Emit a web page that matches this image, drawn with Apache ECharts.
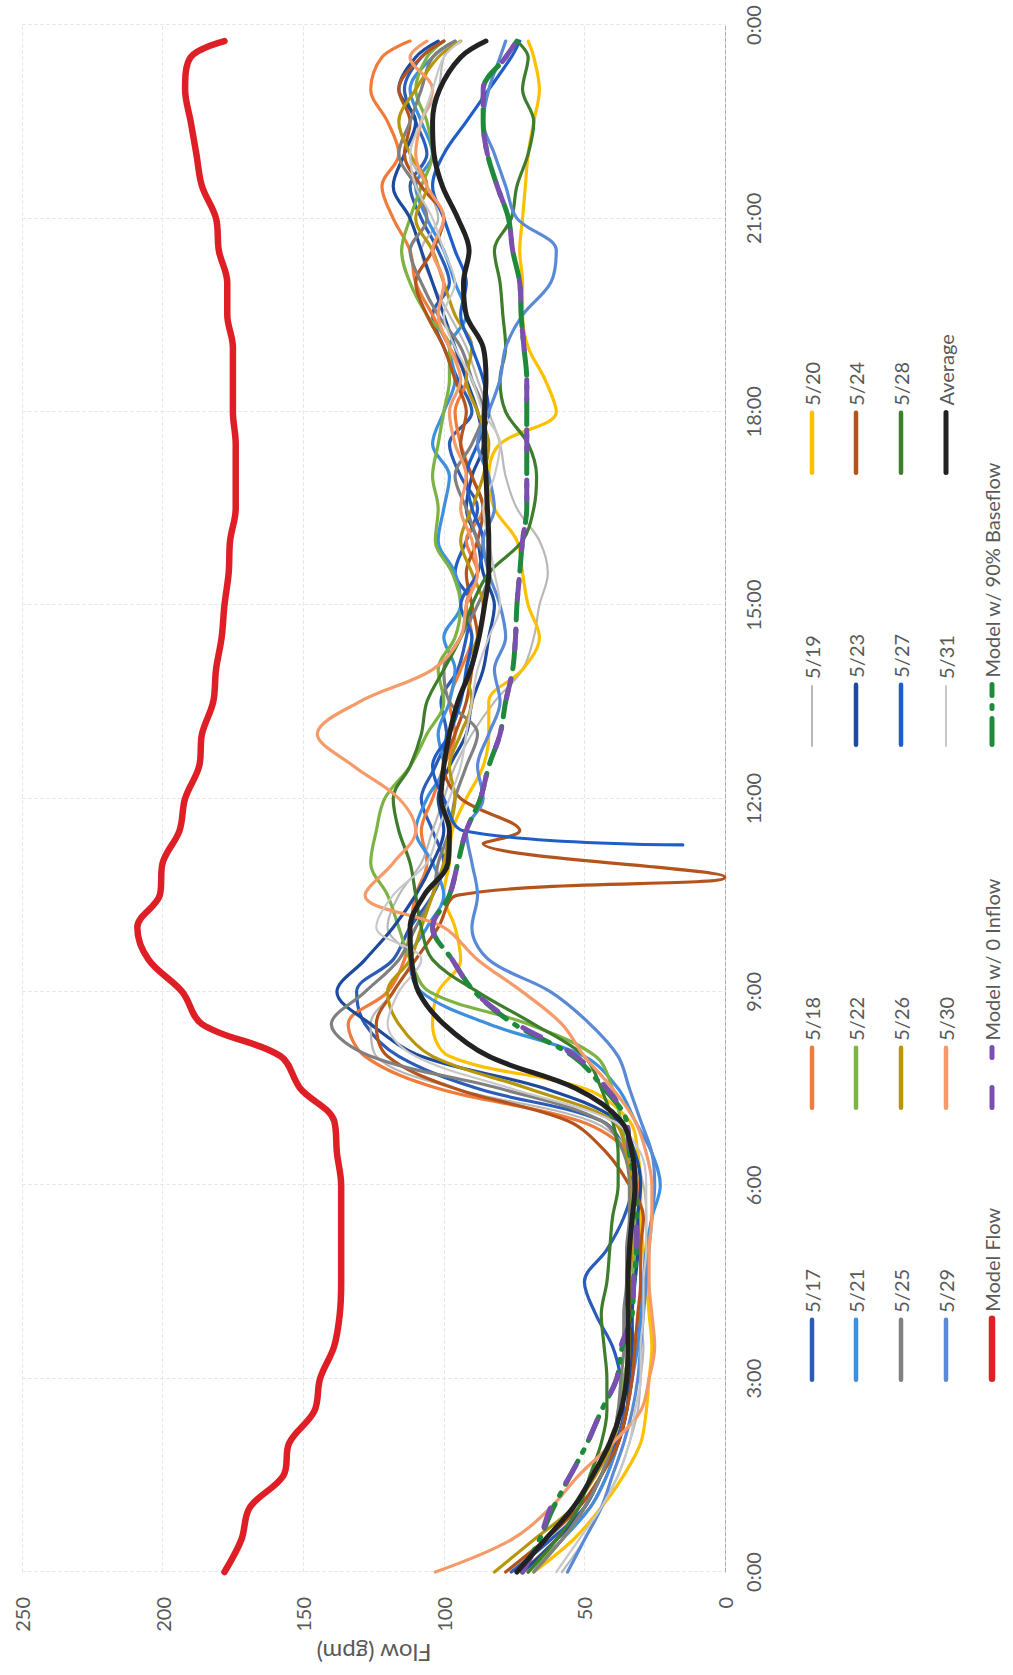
<!DOCTYPE html>
<html>
<head>
<meta charset="utf-8">
<title>Flow by time of day</title>
<script src="https://cdn.jsdelivr.net/npm/echarts@6/dist/echarts.min.js"></script>
<style>
  html, body { margin: 0; padding: 0; background: #fff; overflow: hidden; }
  #chart {
    position: absolute; left: 0; top: 0;
    width: 1675px; height: 1013px;
    transform-origin: 0 0;
    /* the scanned chart is turned a quarter turn, so draw it flat and turn it */
    transform: translate(0, 1675px) rotate(-90deg);
  }
</style>
</head>
<body>
<div id="chart"></div>
<script>
// time of day in hours
var HOURS = [0, 0.5, 1, 1.5, 2, 2.5, 3, 3.5, 4, 4.5, 5, 5.5, 6, 6.5, 7, 7.5, 8, 8.5, 9, 9.5,
  10, 10.5, 11, 11.5, 12, 12.5, 13, 13.5, 14, 14.5, 15, 15.5, 16, 16.5, 17, 17.5, 18, 18.5, 19, 19.5,
  20, 20.5, 21, 21.5, 22, 22.5, 23, 23.5, 23.75];

var DAYS = ['5/17', '5/18', '5/19', '5/20', '5/21', '5/22', '5/23', '5/24', '5/25', '5/26', '5/27', '5/28', '5/29', '5/30', '5/31'];

// measured flow (gpm), one value per entry of HOURS
var D0517 = [76, 62, 50, 44, 39, 36, 37, 40, 46, 50, 42, 36, 33, 35, 44, 88, 116, 128, 131, 118, 112, 104, 100, 104, 108, 103, 99, 101, 95, 92, 90, 96, 92, 88, 94, 98, 90, 95, 100, 104, 98, 102, 108, 112, 106, 110, 114, 108, 100];
var D0518 = [72, 60, 48, 42, 38, 35, 33, 32, 34, 33, 31, 30, 31, 34, 52, 102, 128, 134, 120, 114, 112, 110, 106, 108, 104, 100, 96, 98, 94, 90, 92, 88, 92, 86, 90, 94, 96, 92, 98, 104, 110, 112, 118, 122, 116, 120, 126, 122, 112];
var D0519 = [58, 50, 44, 38, 34, 31, 30, 29, 30, 29, 28, 28, 29, 33, 48, 96, 124, 126, 118, 112, 120, 116, 108, 104, 100, 96, 90, 82, 72, 68, 66, 63, 66, 74, 78, 80, 84, 88, 92, 98, 104, 108, 102, 106, 112, 108, 102, 100, 96];
var D0520 = [68, 54, 44, 36, 30, 28, 27, 26, 27, 28, 29, 30, 30, 31, 34, 50, 98, 104, 102, 94, 96, 100, 98, 97, 92, 86, 84, 84, 72, 66, 70, 72, 74, 82, 84, 80, 60, 64, 70, 72, 72, 73, 72, 71, 70, 68, 66, 68, 70];
var D0521 = [70, 58, 48, 42, 38, 35, 33, 31, 30, 29, 28, 26, 23, 26, 32, 38, 50, 84, 108, 112, 106, 100, 104, 110, 106, 100, 102, 98, 96, 100, 94, 96, 102, 100, 98, 104, 100, 96, 98, 92, 96, 100, 106, 110, 104, 108, 112, 104, 96];
var D0522 = [70, 58, 50, 44, 40, 38, 36, 34, 34, 33, 32, 32, 33, 35, 37, 40, 46, 70, 105, 112, 116, 120, 126, 124, 121, 112, 106, 100, 102, 96, 94, 97, 103, 102, 104, 102, 100, 98, 98, 106, 112, 115, 112, 108, 104, 106, 110, 106, 100];
var D0523 = [72, 60, 50, 44, 38, 35, 34, 33, 33, 32, 31, 31, 30, 32, 38, 64, 108, 126, 138, 128, 118, 110, 104, 100, 102, 98, 92, 90, 86, 84, 82, 86, 88, 92, 90, 86, 88, 92, 96, 100, 104, 108, 112, 118, 114, 110, 116, 110, 102];
var D0524 = [78, 64, 52, 44, 38, 35, 33, 32, 31, 30, 30, 29, 34, 42, 56, 96, 120, 124, 118, 110, 102, 95, null, 73, 94, 100, 96, 92, 90, 88, 90, 92, 88, 86, 90, 94, 92, 96, 100, 106, 110, 104, 100, 108, 114, 112, 116, 108, 100];
var D0525 = [68, 58, 50, 44, 40, 38, 37, 36, 36, 35, 35, 34, 34, 36, 44, 80, 126, 140, 128, 116, 110, 104, 102, 98, 96, 92, 88, 98, 100, 94, 88, 84, 88, 92, 96, 90, 86, 90, 94, 102, 108, 112, 106, 110, 116, 112, 108, 104, 96];
var D0526 = [82, 68, 54, 46, 40, 37, 35, 34, 34, 34, 33, 33, 33, 35, 40, 70, 104, 116, 120, 112, 108, 104, 100, 98, 96, 98, 94, 90, 92, 88, 86, 90, 94, 90, 86, 84, 88, 92, 90, 96, 100, 104, 110, 106, 112, 116, 110, 102, 94];
var D0527 = [null, null, null, null, null, null, null, null, null, null, null, null, null, null, null, null, null, null, null, null, null, null, null,
  93, 100, 104, 98, 94, 92, 90, 94, 88, 86, 90, 92, 88, 84, 86, 90, 94, 92, 96, 100, 104, 100, 92, 84, 76, 73];
var D0528 = [70, 60, 52, 48, 44, 42, 42, 43, 44, 42, 41, 40, 38, 38, 40, 44, 50, 68, 88, 104, 108, 110, 112, 116, 118, 112, 108, 106, 100, 94, 90, 84, 72, 68, 67, 70, 78, 80, 78, 79, 80, 82, 76, 74, 70, 68, 72, 70, 74];
var D0529 = [56, 50, 44, 40, 36, 33, 31, 30, 29, 28, 27, 26, 25, 26, 30, 34, 38, 48, 62, 84, 90, 88, 90, 92, 86, 88, 84, 80, 82, 78, 80, 84, 86, 82, 84, 88, 84, 80, 78, 72, 62, 60, 74, 78, 82, 86, 84, 80, 78];
var D0530 = [103, 76, 62, 52, 40, 30, 27, 25, 26, 27, 27, 26, 26, 28, 32, 40, 50, 58, 72, 88, 100, 128, 118, 110, 116, 132, 145, 130, 104, 94, 92, 88, 90, 94, 92, 96, 98, 94, 98, 102, 100, 104, 100, 106, 110, 108, 104, 112, 106];
var D0531 = [60, 52, 44, 38, 34, 32, 30, 30, 29, 29, 28, 28, 28, 30, 40, 76, 110, 120, 116, 108, 124, 118, 106, 102, 98, 94, 92, 90, 88, 84, 80, 82, 84, 86, 82, 80, 86, 90, 96, 100, 96, 100, 104, 110, 112, 108, 104, 100, 94];

// short drops between the half-hour readings, [hour, gpm]
var SPIKE_0524 = [[10.78, 0], [11.3, 86]];
var SPIKE_0527 = [[11.28, 15]];

var MODEL_FLOW = [178, 172, 169, 157, 155, 146, 144, 139, 137, 136.5, 136.5, 136.5, 136.5, 138, 139, 151, 158, 186, 193, 205,
  209, 201, 200, 194, 192, 187, 186, 182, 181, 179, 178, 176.5, 176, 174, 174, 174, 175, 175, 175, 177,
  177, 180, 181, 186, 188, 190, 192, 190, 178];
var MODEL_NO_INFLOW = [72, 66, 62, 55, 49, 44, 38.5, 37, 33, 32.5, 31.5, 31.5, 32, 34, 35, 42, 53, 74, 89, 97,
  104, 98, 95, 92, 87, 84, 80, 78, 75.5, 74.5, 74, 73, 72, 70.5, 70.5, 70.5, 70.5, 70.5, 71.5, 72.5,
  73, 75.5, 77, 81, 84.5, 86, 86, 78, 74];
var MODEL_90_BASE = [72, 66, 61, 55, 49, 44, 38.5, 36.5, 33, 32.5, 31.5, 31.5, 32, 34, 35, 43, 54, 75, 89, 97,
  104, 98, 95, 92, 87, 84, 80, 78, 75.5, 74.5, 74, 73, 72, 70.5, 70.5, 70.5, 70.5, 70.5, 71.5, 72.5,
  73, 75.5, 77, 81, 84.5, 86, 86, 78, 74];
var AVERAGE = [74, 64, 54, 47, 41, 37, 35, 34.5, 34.5, 34.5, 34, 33, 32, 33, 37, 53, 84, 100, 109, 111.5,
  112, 107, 98.5, 98, 101, 100, 98, 95, 90.5, 87.5, 85.5, 84, 84, 84.5, 85, 85.5, 85.5, 85, 86, 92,
  93, 91, 95, 100.5, 103.5, 104, 101.5, 94, 85];

var DAY_VALUES = [D0517, D0518, D0519, D0520, D0521, D0522, D0523, D0524, D0525, D0526, D0527, D0528, D0529, D0530, D0531];
var DAY_EXTRA = { '5/24': SPIKE_0524, '5/27': SPIKE_0527 };

var DAY_COLORS = ['#2a5cb8', '#f07b3a', '#b8b8b8', '#fbc000', '#3d8fe0', '#7cb342', '#1d4a9c', '#b4541c',
  '#808080', '#b8960c', '#1f5ec8', '#3e7d2b', '#5a8ad6', '#f59a68', '#c8c8c8'];

function toPoints(values, extra) {
  var out = [];
  HOURS.forEach(function (h, i) {
    if (values[i] != null) out.push([h, values[i]]);
  });
  (extra || []).forEach(function (p) { out.push(p); });
  out.sort(function (a, b) { return a[0] - b[0]; });
  return out;
}

var FONT = 'Lato';
var TEXT = '#595959';
var THIN = ['5/19', '5/31'];

var series = [];
DAYS.forEach(function (d, i) {
  series.push({
    name: d, type: 'line', symbol: 'none', smooth: 0.35,
    data: toPoints(DAY_VALUES[i], DAY_EXTRA[d]),
    lineStyle: { color: DAY_COLORS[i], width: THIN.indexOf(d) >= 0 ? 2.2 : 3.2, cap: 'round' },
    itemStyle: { color: DAY_COLORS[i] }
  });
});
series.push({
  name: 'Model Flow', type: 'line', symbol: 'none', smooth: 0.35,
  data: toPoints(MODEL_FLOW),
  lineStyle: { color: '#df1f26', width: 6.5, cap: 'round' }, itemStyle: { color: '#df1f26' }
});
// green first, purple dashes on top so both show along the shared path
series.push({
  name: 'Model w/ 90% Baseflow', type: 'line', symbol: 'none', smooth: 0.35,
  data: toPoints(MODEL_90_BASE),
  lineStyle: { color: '#1f8a3c', width: 5, type: [26, 10, 3, 10], cap: 'round' }, itemStyle: { color: '#1f8a3c' }
});
series.push({
  name: 'Model w/ 0 Inflow', type: 'line', symbol: 'none', smooth: 0.35,
  data: toPoints(MODEL_NO_INFLOW),
  lineStyle: { color: '#7a4fb0', width: 5, type: [20, 30], cap: 'round' }, itemStyle: { color: '#7a4fb0' }
});
series.push({
  name: 'Average', type: 'line', symbol: 'none', smooth: 0.35,
  data: toPoints(AVERAGE),
  lineStyle: { color: '#222222', width: 5, cap: 'round' }, itemStyle: { color: '#222222' }
});

// legend laid out like the Excel one: 4 columns, 5 rows
var LEG_ROWS = [812, 856, 901, 946, 992];
var LEG_COLS = [293, 565, 928, 1200];
var legendNames = ['5/17', '5/18', '5/19', '5/20', '5/21', '5/22', '5/23', '5/24', '5/25', '5/26', '5/27', '5/28',
  '5/29', '5/30', '5/31', 'Average', 'Model Flow', 'Model w/ 0 Inflow', 'Model w/ 90% Baseflow'];
var legends = legendNames.map(function (n, i) {
  var isDay = DAYS.indexOf(n) >= 0;
  return {
    data: [n],
    left: LEG_COLS[i % 4], top: LEG_ROWS[Math.floor(i / 4)] - 12,
    padding: 0, itemWidth: 60, itemHeight: 8, selectedMode: false,
    lineStyle: { width: isDay ? (THIN.indexOf(n) >= 0 ? 2 : 4.5) : 'inherit' },
    itemStyle: { opacity: 0 },
    textStyle: { fontSize: 20, fontFamily: FONT, color: TEXT, lineHeight: 24, padding: [0, 0, 0, 2] }
  };
});

var chart = echarts.init(document.getElementById('chart'), null, { renderer: 'svg', width: 1675, height: 1013 });
chart.setOption({
  backgroundColor: '#ffffff',
  animation: false,
  grid: { left: 103, right: 25, top: 22, bottom: 288, outerBoundsMode: 'none' },
  legend: legends,
  graphic: [{
    // value-axis title, centred on the plot height
    type: 'text', x: 22, y: 374, rotation: Math.PI / 2,
    style: {
      text: 'Flow (gpm)', fill: TEXT, fontSize: 24, fontFamily: FONT,
      align: 'center', verticalAlign: 'middle'
    }
  }],
  xAxis: {
    type: 'value', min: 0, max: 24, interval: 3,
    axisLine: { show: true, onZero: false, lineStyle: { color: '#aaaaaa', type: 'dashed', width: 1 } },
    axisTick: { show: false },
    axisLabel: {
      fontSize: 20, fontFamily: FONT, color: TEXT, margin: 18, showMinLabel: true, showMaxLabel: true,
      formatter: function (v) { return (v % 24) + ':00'; }
    },
    splitLine: { show: true, lineStyle: { color: '#e8e8e8', type: 'dashed' } }
  },
  yAxis: {
    type: 'value', min: 0, max: 250, interval: 50,
    axisLine: { show: false }, axisTick: { show: false },
    axisLabel: { fontSize: 20, fontFamily: FONT, color: TEXT, margin: 25 },
    splitLine: { show: true, lineStyle: { color: '#e8e8e8', type: 'dashed' } }
  },
  series: series
});
</script>
</body>
</html>
